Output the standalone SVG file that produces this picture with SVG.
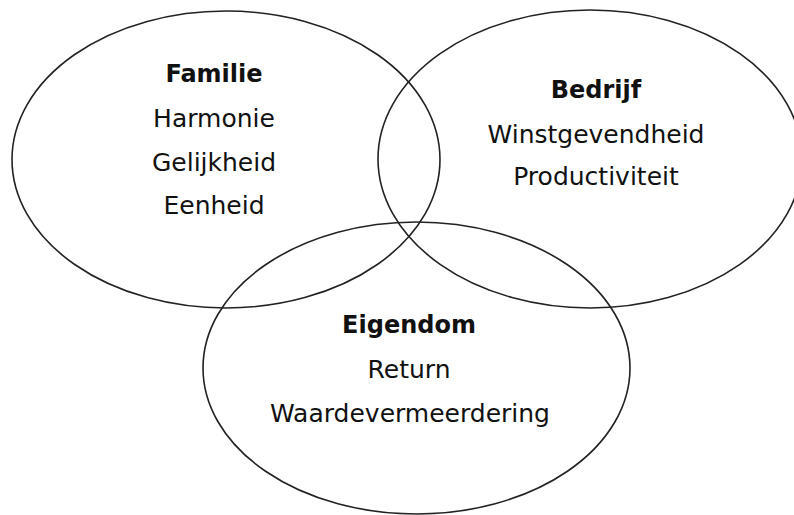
<svg xmlns="http://www.w3.org/2000/svg" width="794" height="515" viewBox="0 0 794 515">
<style>
.ring{fill:none;stroke:#222;stroke-width:1.6}
.t{font-family:"DejaVu Sans","Verdana",sans-serif;font-size:25px;fill:#111;text-anchor:middle}
.h{font-weight:bold;font-size:24px}
</style>
<rect width="794" height="515" fill="#fff"/>
<g id="familie">
<ellipse class="ring" cx="226" cy="159.5" rx="214" ry="148.5"/>
<text class="t h" x="214" y="82">Familie</text>
<text class="t" x="214" y="127">Harmonie</text>
<text class="t" x="214" y="171">Gelijkheid</text>
<text class="t" x="214" y="214">Eenheid</text>
</g>
<g id="bedrijf">
<ellipse class="ring" cx="590" cy="159" rx="212" ry="149"/>
<text class="t h" x="596" y="98">Bedrijf</text>
<text class="t" x="596" y="143">Winstgevendheid</text>
<text class="t" x="596" y="185">Productiviteit</text>
</g>
<g id="eigendom">
<ellipse class="ring" cx="416.5" cy="368" rx="213.5" ry="146"/>
<text class="t h" x="409" y="333">Eigendom</text>
<text class="t" x="409" y="378">Return</text>
<text class="t" x="410" y="422">Waardevermeerdering</text>
</g>
<g id="connectors"/>
</svg>
